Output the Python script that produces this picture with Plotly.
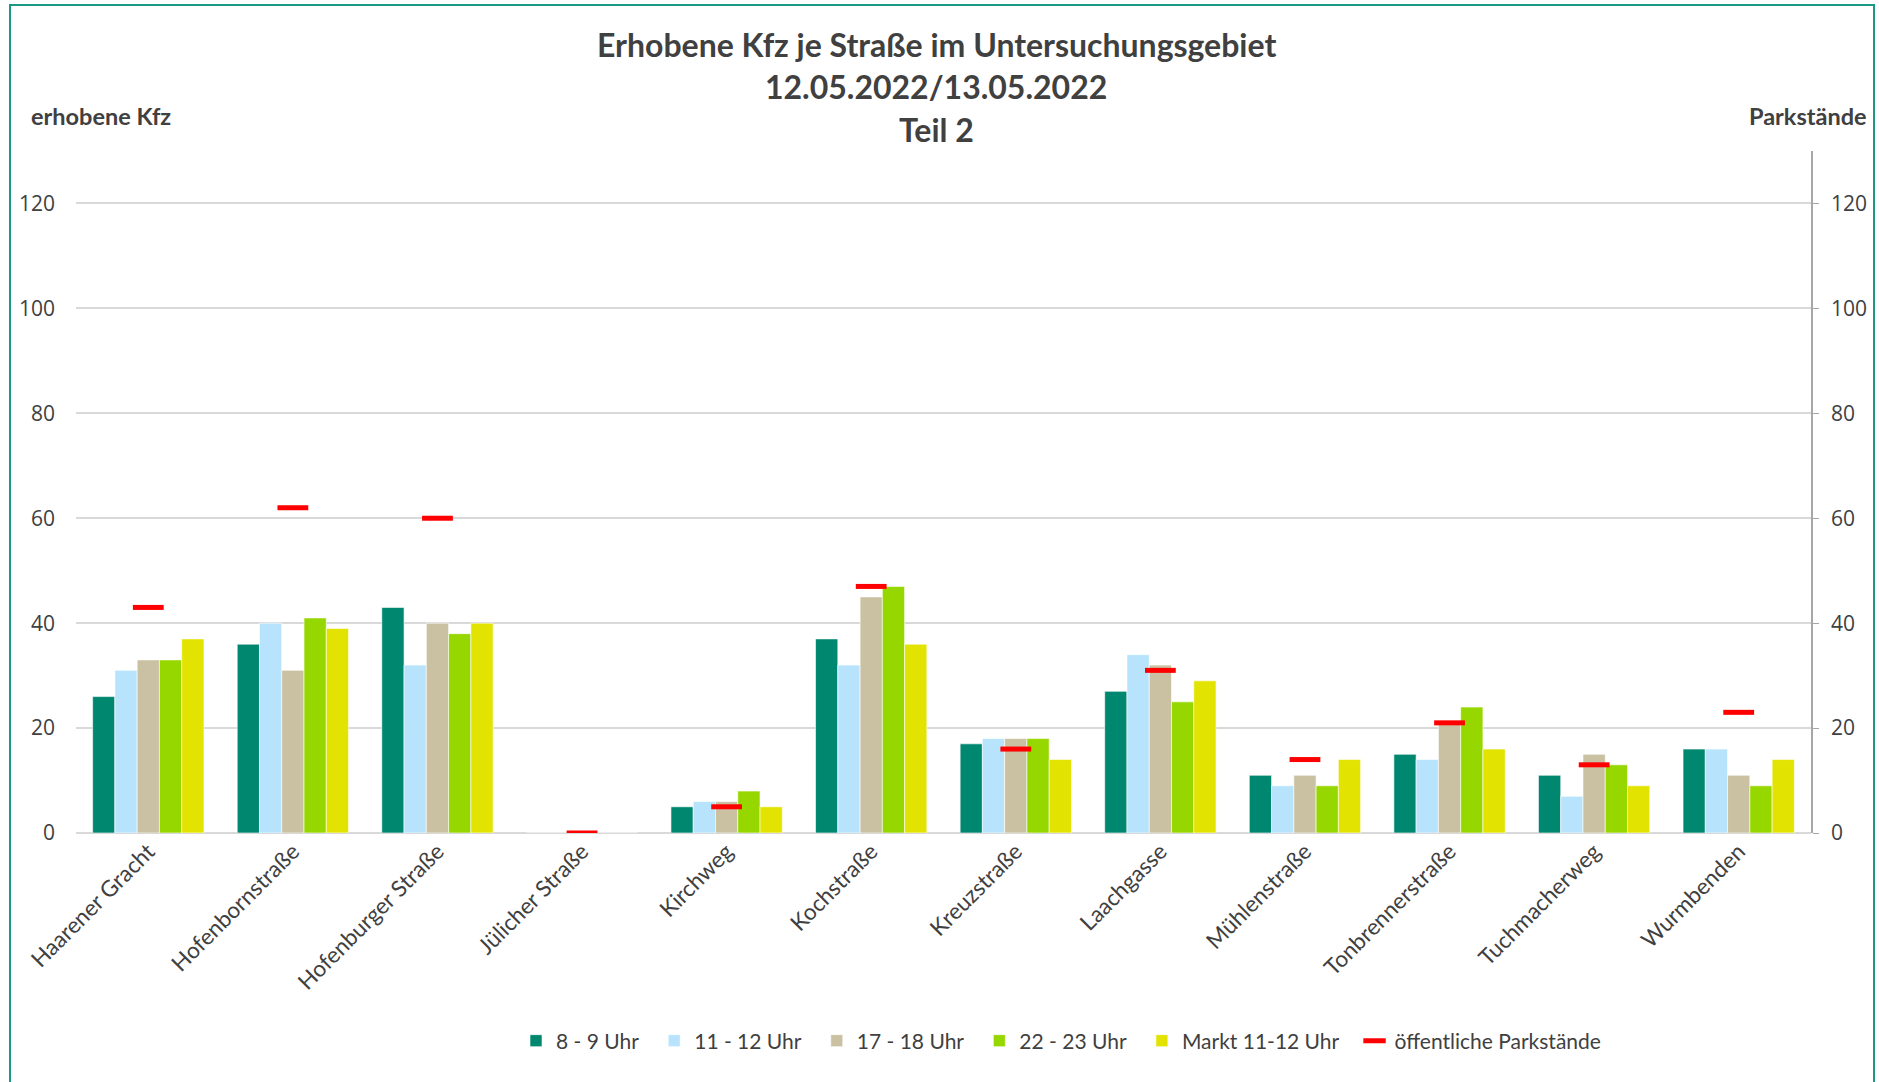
import plotly.graph_objects as go

categories = ["Haarener Gracht", "Hofenbornstraße", "Hofenburger Straße", "Jülicher Straße",
              "Kirchweg", "Kochstraße", "Kreuzstraße", "Laachgasse", "Mühlenstraße",
              "Tonbrennerstraße", "Tuchmacherweg", "Wurmbenden"]
s_8_9 = [26, 36, 43, 0, 5, 37, 17, 27, 11, 15, 11, 16]
s_11_12 = [31, 40, 32, 0, 6, 32, 18, 34, 9, 14, 7, 16]
s_17_18 = [33, 31, 40, 0, 6, 45, 18, 32, 11, 21, 15, 11]
s_22_23 = [33, 41, 38, 0, 8, 47, 18, 25, 9, 24, 13, 9]
s_markt = [37, 39, 40, 0, 5, 36, 14, 29, 14, 16, 9, 14]
parkstaende = [43, 62, 60, 0, 5, 47, 16, 31, 14, 21, 13, 23]
tick_vals = [0, 20, 40, 60, 80, 100, 120]

series = [
    ("8 - 9 Uhr", s_8_9, "#00876F"),
    ("11 - 12 Uhr", s_11_12, "#B7E4FC"),
    ("17 - 18 Uhr", s_17_18, "#CAC1A2"),
    ("22 - 23 Uhr", s_22_23, "#97D700"),
    ("Markt 11-12 Uhr", s_markt, "#E2E300"),
]
PAD = "\u00a0" * 2

TXT = "#404040"
fig = go.Figure()
for name, vals, col in series:
    fig.add_trace(go.Bar(x=categories, y=vals, name=name + PAD, marker_color=col,
                         marker_line_color="rgba(255,255,255,0.6)", marker_line_width=1))
fig.add_trace(go.Scatter(x=categories, y=parkstaende, name="öffentliche Parkstände", mode="markers",
                         yaxis="y2",
                         marker=dict(symbol="line-ew", size=22, color="#FF0000",
                                     line=dict(color="#FF0000", width=5))))

W, H = 1879, 1082
# plot area in image coordinates
X0, X1, Y0, Y1 = 76, 1811, 151, 833
L, T = X0, Y0
R = W - X1
B = H - Y1
pw = X1 - X0
ph = Y1 - Y0

def px(x):
    return (x - X0) / pw

def py(y):
    return (Y1 - y) / ph

fig.update_layout(
    width=W, height=H,
    margin=dict(l=L, r=R, t=T, b=B),
    paper_bgcolor="white", plot_bgcolor="white",
    barmode="group", bargap=0.23, bargroupgap=0,
    font=dict(family="Lato", color=TXT),
    xaxis=dict(tickangle=-45, tickfont=dict(size=22.5, color=TXT, family="Lato"),
               showgrid=False, showline=False, ticks="", range=[-0.5, 11.5]),
    yaxis=dict(range=[0, 130], tickvals=tick_vals, showgrid=True, gridcolor="#D9D9D9",
               gridwidth=1.5, zeroline=True, zerolinecolor="#D9D9D9", zerolinewidth=1.5,
               tickfont=dict(size=21, color=TXT, family="Open Sans"), ticks="",
               ticklabelstandoff=20, showline=False),
    yaxis2=dict(range=[0, 130], tickvals=tick_vals, overlaying="y", side="right",
                showgrid=False, zeroline=False, showline=True, linecolor="#A6A6A6", linewidth=1.5,
                ticks="outside", ticklen=6, tickcolor="#A6A6A6",
                tickfont=dict(size=21, color=TXT, family="Open Sans"), ticklabelstandoff=8),
    legend=dict(orientation="h", x=px(1061), y=py(1041), xanchor="center", yanchor="middle",
                font=dict(size=21, color=TXT, family="Lato"), itemwidth=30,
                traceorder="normal"),
    showlegend=True,
)

title_lines = [("Erhobene Kfz je Straße im Untersuchungsgebiet", 45),
               ("12.05.2022/13.05.2022", 86), ("Teil 2", 129)]
for txt, yy in title_lines:
    fig.add_annotation(text="<b>" + txt + "</b>", x=px(936), y=py(yy), xref="paper", yref="paper",
                       showarrow=False, xanchor="center", yanchor="middle",
                       font=dict(size=32, color=TXT, family="Lato"))
fig.add_annotation(text="<b>erhobene Kfz</b>", x=px(29), y=py(116), xref="paper", yref="paper",
                   showarrow=False, xanchor="left", yanchor="middle",
                   font=dict(size=23.5, color=TXT, family="Lato"))
fig.add_annotation(text="<b>Parkstände</b>", x=px(1869), y=py(116), xref="paper", yref="paper",
                   showarrow=False, xanchor="right", yanchor="middle",
                   font=dict(size=23.5, color=TXT, family="Lato"))

fig.add_shape(type="rect", xref="paper", yref="paper", x0=px(10), x1=px(1874), y0=py(1095), y1=py(5),
              line=dict(color="#1A9A86", width=2), fillcolor="rgba(0,0,0,0)", layer="below")

fig.write_html("out.html", config={"displayModeBar": False},
               post_script="document.body.style.margin='0';document.body.style.overflow='hidden';")
